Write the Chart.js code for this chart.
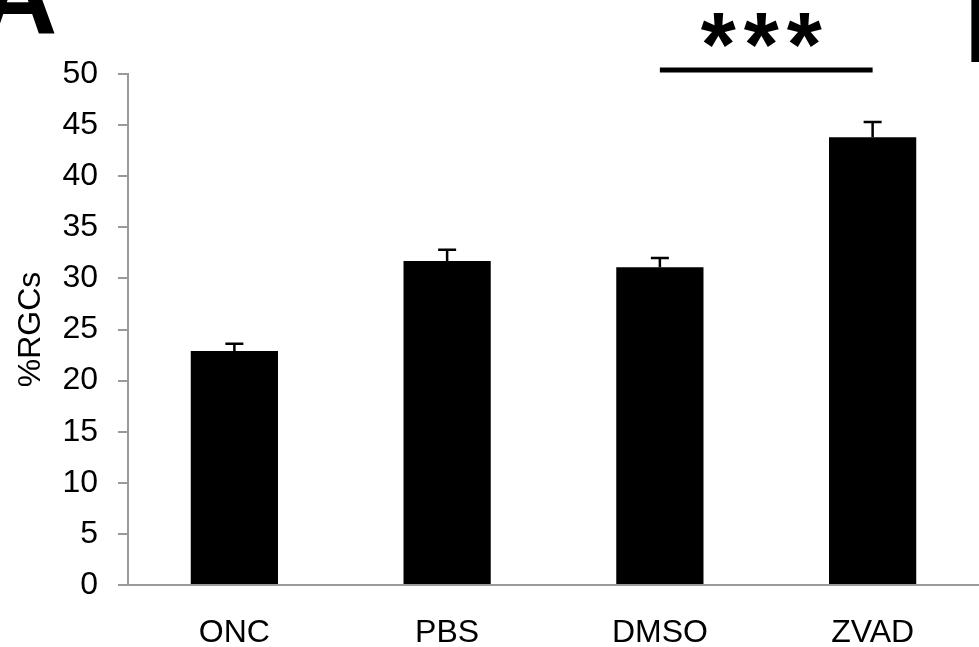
<!DOCTYPE html>
<html lang="en">
<head>
  <meta charset="UTF-8">
  <title>%RGCs bar chart</title>
  <script src="https://cdn.jsdelivr.net/npm/chart.js"></script>
  <style>
    html, body { margin: 0; padding: 0; background: #fff; }
    .chart-container { position: relative; width: 979px; height: 647px; }
  </style>
</head>
<body>
<div class="chart-container"><canvas id="chart"></canvas></div>
<script>
  // data
  const groups = ['ONC', 'PBS', 'DMSO', 'ZVAD'];
  const means = [22.9, 31.7, 31.1, 43.8];
  const sems = [0.7, 1.1, 0.9, 1.5];
  const sigPair = [2, 3];      // DMSO vs ZVAD
  const sigLabel = '***';
  const sigLevel = 50.4;

  const FONT = "'Liberation Sans', Arial, sans-serif";
  const axisGrey = '#9a9a9a';

  const errorBars = {
    id: 'errorBars',
    afterDatasetsDraw(chart) {
      const ctx = chart.ctx;
      const y = chart.scales.y;
      const meta = chart.getDatasetMeta(0);
      ctx.save();
      ctx.strokeStyle = '#000';
      ctx.lineWidth = 2.5;
      meta.data.forEach((bar, i) => {
        const top = y.getPixelForValue(means[i] + sems[i]);
        ctx.beginPath();
        ctx.moveTo(bar.x, bar.y);
        ctx.lineTo(bar.x, top);
        ctx.moveTo(bar.x - 9, top);
        ctx.lineTo(bar.x + 9, top);
        ctx.stroke();
      });
      ctx.restore();
    }
  };

  const extras = {
    id: 'extras',
    afterDraw(chart) {
      const ctx = chart.ctx;
      const y = chart.scales.y;
      const meta = chart.getDatasetMeta(0);
      const x1 = meta.data[sigPair[0]].x;
      const x2 = meta.data[sigPair[1]].x;
      const ly = y.getPixelForValue(sigLevel);
      ctx.save();
      ctx.strokeStyle = '#000';
      ctx.lineWidth = 5;
      ctx.beginPath();
      ctx.moveTo(x1, ly);
      ctx.lineTo(x2, ly);
      ctx.stroke();

      // stars, spaced out like the original
      ctx.fillStyle = '#000';
      ctx.textAlign = 'center';
      ctx.textBaseline = 'alphabetic';
      ctx.font = 'bold 90px ' + FONT;
      const mid = (x1 + x2) / 2 - 5;
      const stars = sigLabel.split('');
      stars.forEach((s, i) => {
        ctx.fillText(s, mid + (i - (stars.length - 1) / 2) * 43, 76);
      });

      // panel letters (cut by the page edge)
      ctx.textAlign = 'left';
      ctx.font = 'bold 110px ' + FONT;
      ctx.fillText('A', -22, 33);
      ctx.fillText('B', 964, 62);
      ctx.restore();
    }
  };

  new Chart(document.getElementById('chart'), {
    type: 'bar',
    data: {
      labels: groups,
      datasets: [{
        data: means,
        backgroundColor: '#000',
        borderWidth: 0,
        categoryPercentage: 1,
        barPercentage: 0.41
      }]
    },
    options: {
      responsive: true,
      maintainAspectRatio: false,
      animation: false,
      layout: { padding: { top: 74, right: 0, left: 0, bottom: 0 } },
      plugins: {
        legend: { display: false },
        tooltip: { enabled: false }
      },
      scales: {
        x: {
          afterFit(scale) { scale.height = 62; },
          grid: { display: false },
          border: { color: axisGrey, width: 2 },
          ticks: { color: '#000', padding: 21, font: { family: FONT, size: 32 } }
        },
        y: {
          min: 0,
          max: 50,
          afterFit(scale) { scale.width = 128; },
          grid: { drawOnChartArea: false, drawTicks: true, tickLength: 10, color: axisGrey, lineWidth: 2 },
          border: { color: axisGrey, width: 2 },
          ticks: { stepSize: 5, color: '#000', padding: 20, font: { family: FONT, size: 32 } },
          title: { display: true, text: '%RGCs', color: '#000', padding: { top: 12, bottom: 0 }, font: { family: FONT, size: 32 } }
        }
      }
    },
    plugins: [errorBars, extras]
  });
</script>
</body>
</html>
